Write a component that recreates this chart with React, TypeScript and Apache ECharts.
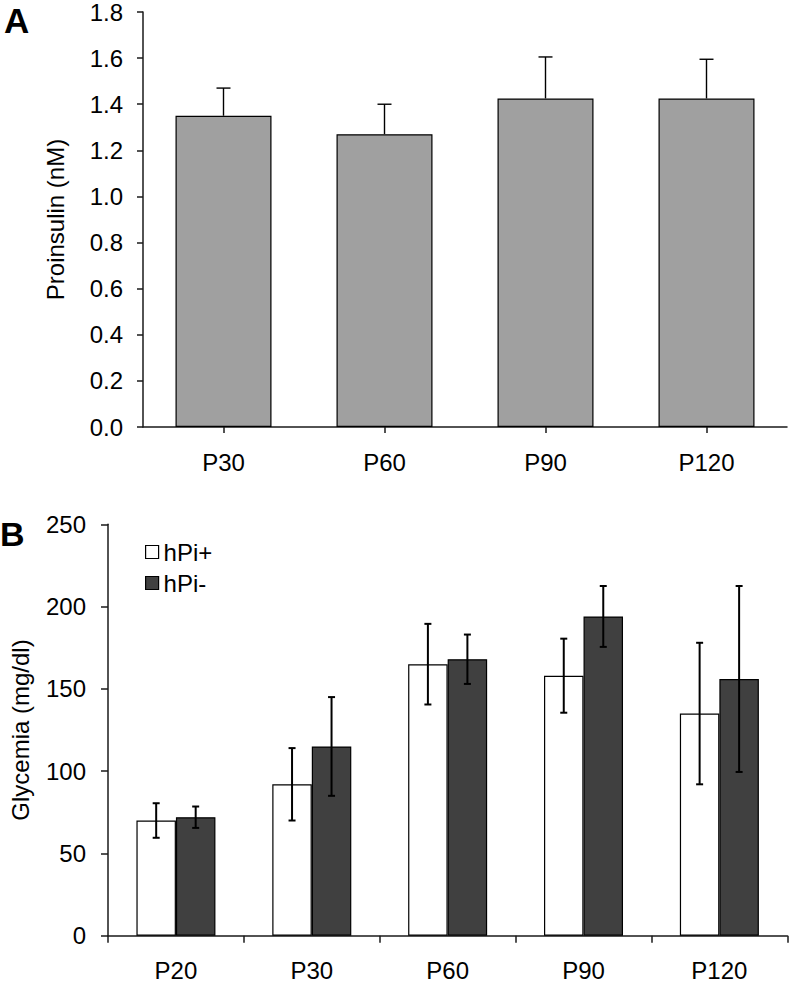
import React, { useEffect, useRef } from "react";
import * as echarts from "echarts";

const catsA = ["P30", "P60", "P90", "P120"];
const proinsulin = [1.35, 1.27, 1.425, 1.425];
const proinsulinErr = [0.12, 0.13, 0.18, 0.17];
const yTicksA = { min: 0, max: 1.8, interval: 0.2 };

const catsB = ["P20", "P30", "P60", "P90", "P120"];
const seriesNamesB = ["hPi+", "hPi-"];
const glyPlus = [70, 92, 165, 158, 135];
const glyPlusErr = [10.5, 22, 24.5, 22.5, 43];
const glyMinus = [72, 115, 168, 194, 156];
const glyMinusErr = [6.5, 30, 15, 18.5, 56.5];
const yTicksB = { min: 0, max: 250, interval: 50 };

const FONT = "Liberation Sans, Arial, Helvetica, sans-serif";
const FS = 24;
const BAR_W_B = 39.5;

function errRender(offset: number, capHalf: number, both: boolean, lw: number) {
  return (params: any, api: any) => {
    const i = api.value(0);
    const v = api.value(1);
    const e = api.value(2);
    const top = api.coord([i, v + e]);
    const bot = api.coord([i, both ? v - e : v]);
    const x = top[0] + offset;
    const style = { stroke: "#000", lineWidth: lw };
    const children: any[] = [
      { type: "line", shape: { x1: x, y1: top[1], x2: x, y2: bot[1] }, style },
      { type: "line", shape: { x1: x - capHalf, y1: top[1], x2: x + capHalf, y2: top[1] }, style },
    ];
    if (both) {
      children.push({ type: "line", shape: { x1: x - capHalf, y1: bot[1], x2: x + capHalf, y2: bot[1] }, style });
    }
    return { type: "group", children };
  };
}

export default function App() {
  const ref = useRef<HTMLDivElement>(null);
  useEffect(() => {
    document.body.style.margin = "0";
    const chart = echarts.init(ref.current!, undefined, { renderer: "svg" });
    const axisLine = { show: true, lineStyle: { color: "#1a1a1a", width: 1.5 } };
    const axisLabel = { color: "#000", fontSize: FS, fontFamily: FONT };
    const nameTextStyle = { color: "#000", fontSize: FS, fontFamily: FONT };
    chart.setOption({
      animation: false,
      backgroundColor: "#fff",
      textStyle: { fontFamily: FONT },
      grid: [
        { left: 143, top: 12, width: 644, height: 415 },
        { left: 99.3, top: 524.3, width: 688, height: 411.4 },
      ],
      legend: {
        left: 145,
        top: 540,
        padding: 0,
        orient: "vertical",
        itemWidth: 13,
        itemHeight: 13,
        itemGap: 7,
        textStyle: { color: "#000", fontSize: FS, fontFamily: FONT },
        data: [
          { name: seriesNamesB[0], icon: "rect", itemStyle: { color: "#fff", borderColor: "#000", borderWidth: 1.2 } },
          { name: seriesNamesB[1], icon: "rect", itemStyle: { color: "#404040", borderColor: "#000", borderWidth: 1.2 } },
        ],
      },
      xAxis: [
        {
          type: "category",
          gridIndex: 0,
          data: catsA,
          axisLine,
          axisTick: { show: true, alignWithLabel: true, length: 6, lineStyle: { color: "#1a1a1a", width: 1.5 } },
          axisLabel: { ...axisLabel, margin: 23 },
        },
        {
          type: "category",
          gridIndex: 1,
          data: catsB,
          axisLine,
          axisTick: { show: true, alignWithLabel: false, length: 7, lineStyle: { color: "#1a1a1a", width: 1.5 } },
          axisLabel: { ...axisLabel, margin: 23 },
        },
      ],
      yAxis: [
        {
          type: "value",
          gridIndex: 0,
          ...yTicksA,
          name: "Proinsulin (nM)",
          nameLocation: "middle",
          nameGap: 76,
          nameTextStyle,
          axisLine,
          axisTick: { show: true, length: 6, lineStyle: { color: "#1a1a1a", width: 1.5 } },
          axisLabel: { ...axisLabel, margin: 20, formatter: (v: number) => v.toFixed(1) },
          splitLine: { show: false },
        },
        {
          type: "value",
          gridIndex: 1,
          ...yTicksB,
          name: "Glycemia (mg/dl)",
          nameLocation: "middle",
          nameGap: 76,
          nameTextStyle,
          axisLine,
          axisTick: { show: true, length: 7, lineStyle: { color: "#1a1a1a", width: 1.5 } },
          axisLabel: { ...axisLabel, margin: 22 },
          splitLine: { show: false },
        },
      ],
      series: [
        {
          type: "bar",
          name: "Proinsulin",
          xAxisIndex: 0,
          yAxisIndex: 0,
          data: proinsulin,
          barWidth: 96,
          itemStyle: { color: "#a0a0a0", borderColor: "#000", borderWidth: 1.2 },
        },
        {
          type: "custom",
          xAxisIndex: 0,
          yAxisIndex: 0,
          z: 5,
          renderItem: errRender(0, 7, false, 1.4),
          encode: { x: 0, y: 1 },
          data: proinsulin.map((v, i) => [i, v, proinsulinErr[i]]),
        },
        {
          type: "bar",
          name: seriesNamesB[0],
          xAxisIndex: 1,
          yAxisIndex: 1,
          data: glyPlus,
          barWidth: BAR_W_B,
          barGap: "0%",
          itemStyle: { color: "#fff", borderColor: "#000", borderWidth: 1.2 },
        },
        {
          type: "bar",
          name: seriesNamesB[1],
          xAxisIndex: 1,
          yAxisIndex: 1,
          data: glyMinus,
          barWidth: BAR_W_B,
          barGap: "0%",
          itemStyle: { color: "#404040", borderColor: "#000", borderWidth: 1.2 },
        },
        {
          type: "custom",
          xAxisIndex: 1,
          yAxisIndex: 1,
          z: 5,
          renderItem: errRender(-BAR_W_B / 2, 3.5, true, 2),
          encode: { x: 0, y: 1 },
          data: glyPlus.map((v, i) => [i, v, glyPlusErr[i]]),
        },
        {
          type: "custom",
          xAxisIndex: 1,
          yAxisIndex: 1,
          z: 5,
          renderItem: errRender(BAR_W_B / 2, 3.5, true, 2),
          encode: { x: 0, y: 1 },
          data: glyMinus.map((v, i) => [i, v, glyMinusErr[i]]),
        },
      ],
      graphic: [
        { type: "text", left: 4, top: 3, style: { text: "A", fontSize: 35, fontWeight: "bold", fontFamily: FONT, fill: "#000" } },
        { type: "text", left: 0, top: 517, style: { text: "B", fontSize: 34, fontWeight: "bold", fontFamily: FONT, fill: "#000" } },
      ],
    });
    return () => chart.dispose();
  }, []);
  return <div ref={ref} style={{ width: 792, height: 985 }} />;
}
